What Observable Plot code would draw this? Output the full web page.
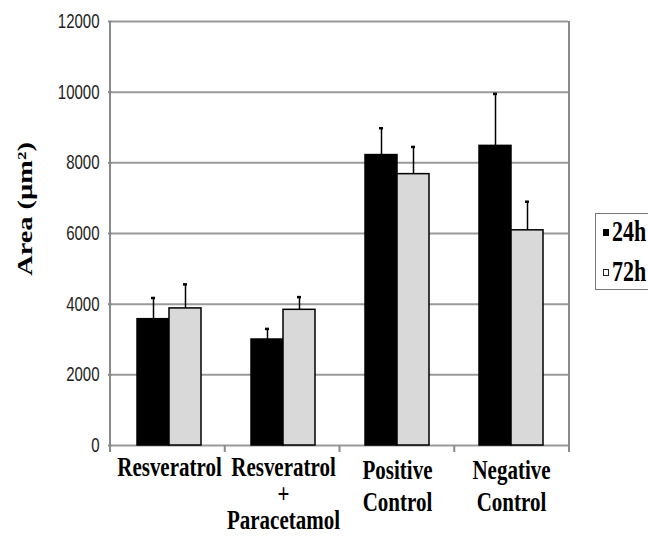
<!DOCTYPE html>
<html><head><meta charset="utf-8">
<script src="https://cdn.jsdelivr.net/npm/d3@7"></script>
<script src="https://cdn.jsdelivr.net/npm/@observablehq/plot@0.6"></script>
<style>
html,body{margin:0;padding:0;background:#fff;overflow:hidden;width:648px;height:536px}
#wrap{position:relative;width:648px;height:536px;overflow:hidden}
#wrap svg{position:absolute;left:0;top:0}
#legend{position:absolute;left:595px;top:213px;width:90px;height:77px;border:1.5px solid #777;box-sizing:border-box;background:#fff}
#legend .mk{position:absolute;left:7px;width:6px;height:7px;box-sizing:border-box}
#legend .lb{position:absolute;left:16px;font:bold 22px "Liberation Serif",serif;line-height:22px;color:#000;transform:scaleY(1.3);transform-origin:left center;white-space:nowrap}
</style></head>
<body><div id="wrap"></div>
<script>
const categories = ["Resveratrol", "Resveratrol + Paracetamol", "Positive Control", "Negative Control"];
const categoryLabels = ["Resveratrol", "Resveratrol\n+\nParacetamol", "Positive\nControl", "Negative\nControl"];
const series = ["24h", "72h"];
const seriesColors = ["#000000", "#d9d9d9"];
const values24h = [3575, 3000, 8220, 8480];
const errors24h = [600, 300, 760, 1470];
const values72h = [3880, 3840, 7680, 6090];
const errors72h = [680, 360, 770, 810];
const yTicks = [0, 2000, 4000, 6000, 8000, 10000, 12000];
const yLabel = "Area (µm²)";

const rows = [];
categories.forEach((c, i) => {
  rows.push({category: c, series: series[0], value: values24h[i], error: errors24h[i]});
  rows.push({category: c, series: series[1], value: values72h[i], error: errors72h[i]});
});
const labelOf = c => categoryLabels[categories.indexOf(c)];
const nLines = c => labelOf(c).split("\n").length;

const W = 648, H = 536, mL = 110, mR = 79, mT = 21, mB = 91;
const SY = 1.35;
const catFont = {fontSize: 21, fontFamily: "Liberation Serif, serif", fontWeight: "bold", fill: "#000"};

const chart = Plot.plot({
  width: W, height: H,
  marginLeft: mL, marginRight: mR, marginTop: mT, marginBottom: mB,
  style: {background: "transparent", overflow: "visible"},
  fx: {domain: categories, padding: 0, label: null, axis: null},
  x: {domain: series, paddingInner: 0, paddingOuter: 0.74, axis: null},
  y: {domain: [0, 12000], label: null},
  color: {domain: series, range: seriesColors},
  marks: [
    Plot.gridY(yTicks, {stroke: "#9a9a9a", strokeOpacity: 1, strokeWidth: 2}),
    Plot.barY(rows, {fx: "category", x: "series", y: "value", fill: "series", stroke: "#000", strokeWidth: 1.5}),
    Plot.ruleX(rows, {fx: "category", x: "series", y1: "value", y2: d => d.value + d.error, stroke: "#000", strokeWidth: 1.5}),
    Plot.tickY(rows, {fx: "category", x: "series", y: d => d.value + d.error, stroke: "#000", strokeWidth: 2.5, insetLeft: 14, insetRight: 14}),
    Plot.axisY(yTicks, {tickSize: 4, tickPadding: 9, tickFormat: d => String(d), stroke: "#8a8a8a", strokeWidth: 2, fontSize: 15, fontFamily: "Liberation Sans, Arial, sans-serif", fill: "#222", label: null}),
    // category labels: 3-line label is set tighter than the 2-line ones, as in the reference
    Plot.text(categories.filter(c => nLines(c) !== 2), {fx: d => d, text: labelOf, frameAnchor: "bottom", lineAnchor: "top", dy: 11, lineHeight: 0.95, ...catFont}),
    Plot.text(categories.filter(c => nLines(c) === 2), {fx: d => d, text: labelOf, frameAnchor: "bottom", lineAnchor: "top", dy: 11, lineHeight: 1.13, ...catFont})
  ]
});

// stretch text vertically to match the reference's aspect
d3.select(chart).selectAll("text").each(function() {
  const t = this.getAttribute("transform") || "";
  this.setAttribute("transform", t + ` scale(1,${SY})`);
});

// y-axis title, rotated, stretched along its length
d3.select(chart).append("text")
  .attr("transform", `translate(${mL - 85},${(mT + H - mB) / 2 - 24}) rotate(-90) scale(${SY},1)`)
  .attr("text-anchor", "middle")
  .attr("dy", "0.32em")
  .attr("font-family", "Liberation Serif, serif")
  .attr("font-weight", "bold")
  .attr("font-size", 21)
  .attr("fill", "#000")
  .text(yLabel);

// frame lines and category separator ticks (Excel style)
{
  const g = d3.select(chart).append("g").attr("stroke", "#8a8a8a").attr("stroke-width", 2);
  const x0 = mL, x1 = W - mR, y0 = mT, y1 = H - mB;
  g.append("line").attr("x1", x0).attr("x2", x0).attr("y1", y0).attr("y2", y1 + 2);
  g.append("line").attr("x1", x1).attr("x2", x1).attr("y1", y0).attr("y2", y1);
  const bw = (x1 - x0) / categories.length;
  for (let i = 0; i <= categories.length; i++) {
    g.append("line").attr("x1", x0 + i * bw).attr("x2", x0 + i * bw).attr("y1", y1).attr("y2", y1 + 7);
  }
}

const wrap = document.getElementById("wrap");
wrap.appendChild(chart);

const legend = document.createElement("div");
legend.id = "legend";
series.forEach((s, i) => {
  const mk = document.createElement("div");
  mk.className = "mk";
  mk.style.top = (15 + i * 40) + "px";
  if (i === 0) { mk.style.background = seriesColors[0]; }
  else { mk.style.background = "#fff"; mk.style.border = "1.5px solid #222"; }
  const lb = document.createElement("div");
  lb.className = "lb";
  lb.style.top = (7 + i * 40) + "px";
  lb.textContent = s;
  legend.appendChild(mk);
  legend.appendChild(lb);
});
wrap.appendChild(legend);
</script>
</body></html>
